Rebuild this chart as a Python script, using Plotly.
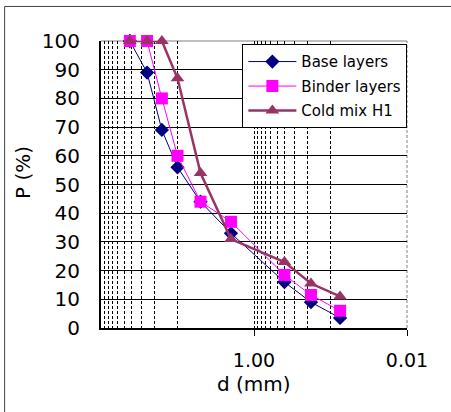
import plotly.graph_objects as go

# Sieve sizes (mm) and percentage passing for each mix
sieve_mm = [42, 25, 16, 10, 5, 2, 0.4, 0.18, 0.075]
base_layers = [100, 89, 69, 56, 44, 33, 16, 9, 3.5]
binder_layers = [100, 100, 80, 60, 44, 37, 18.5, 11.5, 6]
cold_mix_h1 = [100, 100, 100, 87, 54, 31, 23, 15.5, 11]

y_ticks = list(range(0, 101, 10))
x_tickvals = [1, 0.01]
x_ticktext = ["1.00", "0.01"]
x_minor = [k * 10 for k in range(1, 10)] + [k / 10 for k in range(1, 10)]

FONT = "DejaVu Sans, Verdana, sans-serif"

fig = go.Figure()
fig.add_trace(go.Scatter(
    x=sieve_mm, y=base_layers, name="Base layers", mode="lines+markers",
    line=dict(color="#000080", width=1),
    marker=dict(symbol="diamond", size=11, color="#000080"),
    cliponaxis=False, legendgroup="a",
))
fig.add_trace(go.Scatter(
    x=sieve_mm, y=binder_layers, name="Binder layers", mode="lines+markers",
    line=dict(color="#FF00FF", width=1),
    marker=dict(symbol="square", size=12, color="#FF00FF"),
    cliponaxis=False, legendgroup="b",
))
fig.add_trace(go.Scatter(
    x=sieve_mm, y=cold_mix_h1, name="Cold mix H1", mode="lines+markers",
    line=dict(color="#993366", width=2.5),
    marker=dict(symbol="triangle-up", size=12, color="#993366"),
    cliponaxis=False, legendgroup="c",
))

shapes = [
    # grey top and right edges of the plot area
    dict(type="line", xref="paper", yref="paper", x0=0, x1=1, y0=1, y1=1,
         line=dict(color="#808080", width=1), layer="between"),
    dict(type="line", xref="paper", yref="paper", x0=1, x1=1, y0=0, y1=1,
         line=dict(color="#808080", width=1, dash="3px,2px"), layer="between"),
    # outer chart frame
    dict(type="rect", xref="paper", yref="paper", x0=-0.315, x1=1.16,
         y0=-0.32, y1=1.1204, line=dict(color="#404040", width=1), layer="below"),
]

fig.update_layout(
    width=451, height=412,
    margin=dict(l=101, r=44, t=41, b=84),
    paper_bgcolor="white", plot_bgcolor="white",
    font=dict(family=FONT, color="black"),
    showlegend=True,
    legend=dict(
        x=0.462, y=0.9885, xanchor="left", yanchor="top",
        bgcolor="white", bordercolor="black", borderwidth=1,
        font=dict(size=15, family=FONT), tracegroupgap=2,
        itemwidth=48,
    ),
    xaxis=dict(
        type="log", range=[2, -2], autorange=False,
        tickmode="array", tickvals=x_tickvals, ticktext=x_ticktext,
        ticks="outside", ticklen=6, tickcolor="black", tickwidth=1,
        tickfont=dict(size=19), ticklabelstandoff=8,
        showline=True, linecolor="black", linewidth=2,
        showgrid=True, gridcolor="black", gridwidth=1, griddash="3px,2px",
        minor=dict(tickmode="array", tickvals=x_minor, showgrid=True,
                   gridcolor="black", gridwidth=1, griddash="3px,2px"),
        zeroline=False,
    ),
    yaxis=dict(
        range=[0, 100], autorange=False,
        tickmode="array", tickvals=y_ticks,
        ticks="", tickfont=dict(size=20), ticklabelstandoff=15,
        showline=True, linecolor="black", linewidth=2,
        showgrid=True, gridcolor="black", gridwidth=1,
        zeroline=False,
    ),
    shapes=shapes,
    annotations=[
        dict(text="P (%)", xref="paper", yref="paper", x=-0.255, y=0.5436,
             xanchor="center", yanchor="middle",
             textangle=-90, showarrow=False, font=dict(size=20)),
        dict(text="d (mm)", xref="paper", yref="paper", x=0.5, y=-0.194,
             xanchor="center", yanchor="middle",
             showarrow=False, font=dict(size=20)),
    ],
)

fig.write_html("out.html")
